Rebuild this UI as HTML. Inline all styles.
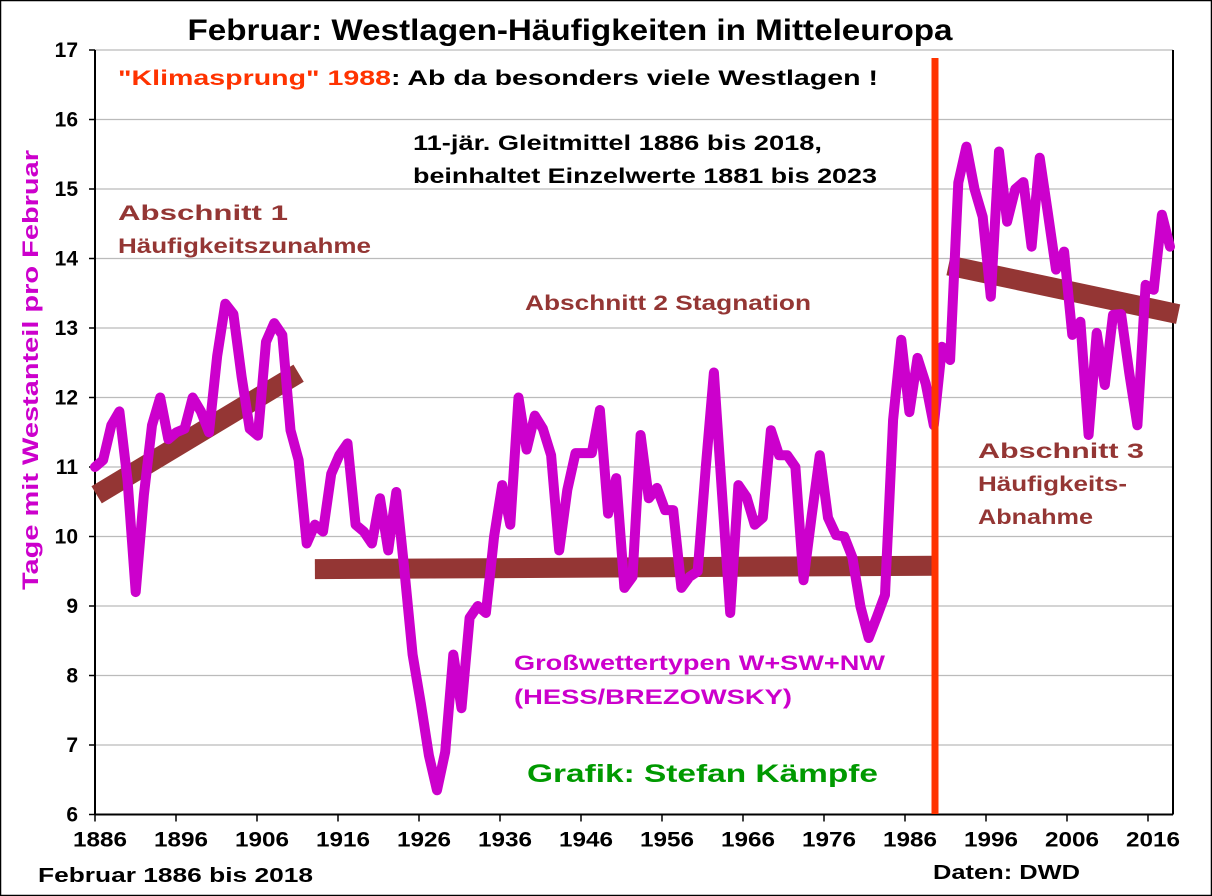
<!DOCTYPE html>
<html><head><meta charset="utf-8"><style>
html,body{margin:0;padding:0;background:#fff;}
svg{display:block;font-family:"Liberation Sans",Arial,sans-serif;font-weight:bold;}
</style></head><body>
<svg id="chart" width="1212" height="896" viewBox="0 0 1212 896" xmlns="http://www.w3.org/2000/svg">
<rect x="0.5" y="0.5" width="1211" height="895" fill="#fff" stroke="#000" stroke-width="1.5"/>
<text x="570" y="40" text-anchor="middle" font-size="30" textLength="765" lengthAdjust="spacingAndGlyphs" fill="#000">Februar: Westlagen-Häufigkeiten in Mitteleuropa</text>
<g id="grid"></g>
<g id="axes"></g>
<g id="trends"></g>
<g id="series"></g>
<line x1="935" y1="58" x2="935" y2="814" stroke="#FF3300" stroke-width="7"/>
<text x="-370" y="38" transform="rotate(-90)" text-anchor="middle" font-size="22" textLength="440" lengthAdjust="spacingAndGlyphs" fill="#CC00CC">Tage mit Westanteil pro Februar</text>
<text x="118" y="85" font-size="21" textLength="760" lengthAdjust="spacingAndGlyphs"><tspan fill="#FF3300">"Klimasprung" 1988</tspan><tspan fill="#000">: Ab da besonders viele Westlagen !</tspan></text>
<text x="413" y="150" font-size="21" textLength="409" lengthAdjust="spacingAndGlyphs" fill="#000">11-jär. Gleitmittel 1886 bis 2018,</text>
<text x="413" y="183" font-size="21" textLength="464" lengthAdjust="spacingAndGlyphs" fill="#000">beinhaltet Einzelwerte 1881 bis 2023</text>
<text x="118" y="220" font-size="21" textLength="170" lengthAdjust="spacingAndGlyphs" fill="#943634">Abschnitt 1</text>
<text x="118" y="253" font-size="21" textLength="253" lengthAdjust="spacingAndGlyphs" fill="#943634">Häufigkeitszunahme</text>
<text x="525" y="310" font-size="21" textLength="286" lengthAdjust="spacingAndGlyphs" fill="#943634">Abschnitt 2 Stagnation</text>
<text x="978" y="458" font-size="21" textLength="166" lengthAdjust="spacingAndGlyphs" fill="#943634">Abschnitt 3</text>
<text x="978" y="491" font-size="21" textLength="149" lengthAdjust="spacingAndGlyphs" fill="#943634">Häufigkeits-</text>
<text x="978" y="524" font-size="21" textLength="115" lengthAdjust="spacingAndGlyphs" fill="#943634">Abnahme</text>
<text x="514" y="670" font-size="21" textLength="371" lengthAdjust="spacingAndGlyphs" fill="#CC00CC">Großwettertypen W+SW+NW</text>
<text x="514" y="704" font-size="21" textLength="278" lengthAdjust="spacingAndGlyphs" fill="#CC00CC">(HESS/BREZOWSKY)</text>
<text x="527" y="782" font-size="25" textLength="351" lengthAdjust="spacingAndGlyphs" fill="#009900">Grafik: Stefan Kämpfe</text>
<text x="38" y="882" font-size="20" textLength="275" lengthAdjust="spacingAndGlyphs" fill="#000">Februar 1886 bis 2018</text>
<text x="933" y="879" font-size="20" textLength="147" lengthAdjust="spacingAndGlyphs" fill="#000">Daten: DWD</text>
</svg>
<script>
const yTicks=[6,7,8,9,10,11,12,13,14,15,16,17];
const xTickLabels=[1886,1896,1906,1916,1926,1936,1946,1956,1966,1976,1986,1996,2006,2016];
const firstYear=1886;
const values=[11.0,11.1,11.6,11.8,10.8,9.2,10.6,11.6,12.0,11.4,11.5,11.55,12.0,11.8,11.5,12.6,13.35,13.2,12.3,11.55,11.45,12.8,13.07,12.9,11.53,11.1,9.9,10.17,10.07,10.9,11.17,11.34,10.17,10.07,9.9,10.55,9.8,10.64,9.5,8.3,7.6,6.85,6.35,6.9,8.3,7.53,8.83,9.0,8.9,10.0,10.74,10.17,12.0,11.25,11.74,11.55,11.17,9.8,10.67,11.2,11.2,11.2,11.82,10.33,10.84,9.26,9.42,11.46,10.55,10.7,10.38,10.38,9.26,9.42,9.5,11.0,12.36,10.6,8.9,10.74,10.57,10.17,10.27,11.53,11.17,11.17,11.0,9.37,10.3,11.17,10.27,10.02,10.0,9.7,8.99,8.54,8.84,9.16,11.68,12.83,11.79,12.57,12.2,11.6,12.73,12.54,15.09,15.61,15.0,14.6,13.45,15.54,14.53,15.0,15.1,14.17,15.45,14.66,13.84,14.1,12.9,13.09,11.46,12.93,12.18,13.19,13.2,12.35,11.6,13.62,13.55,14.63,14.17];
const trendYears=[[1886.2,1911],[1913,1989.2],[1990.8,2019]];
const trendValues=[[10.6,12.35],[9.53,9.58],[13.9,13.2]];
const NS="http://www.w3.org/2000/svg";
const X0=95,X1=1170,Y0=814.5,PXU=69.5;
function xs(yr){return X0+(yr-firstYear)*(X1-X0)/132;}
function ys(v){return Y0-(v-6)*PXU;}
function mk(tag,attrs,parent){const e=document.createElementNS(NS,tag);for(const k in attrs)e.setAttribute(k,attrs[k]);parent.appendChild(e);return e;}
const grid=document.getElementById('grid'),axes=document.getElementById('axes'),trends=document.getElementById('trends'),series=document.getElementById('series');
yTicks.forEach(t=>{
  if(t>6){const g=mk('line',{x1:X0,x2:1173,y1:ys(t),y2:ys(t),stroke:'#BBBBBB','stroke-width':1.3},grid);
  
  }
  const tk=mk('line',{x1:X0-6,x2:X0,y1:ys(t),y2:ys(t),stroke:'#000','stroke-width':1.5},axes);
  
  
  const lb=mk('text',{x:78,y:ys(t)+7,'text-anchor':'end','font-size':21,fill:'#000'},axes);
  lb.textContent=t;
  
  
});
const ya=mk('line',{x1:X0,x2:X0,y1:ys(17),y2:Y0,stroke:'#000','stroke-width':2},axes);


const xa=mk('line',{x1:X0,x2:1173,y1:Y0,y2:Y0,stroke:'#000','stroke-width':2},axes);


const ra=mk('line',{x1:1173,x2:1173,y1:ys(17),y2:Y0,stroke:'#000','stroke-width':2},axes);


xTickLabels.forEach(yr=>{
  const x=X0+(yr-firstYear)*8.1;
  const tk=mk('line',{x1:x,x2:x,y1:Y0,y2:Y0+7,stroke:'#000','stroke-width':1.5},axes);
  
  
  const lb=mk('text',{x:x+5,y:Y0+32,'text-anchor':'middle','font-size':21,textLength:54,lengthAdjust:'spacingAndGlyphs',fill:'#000'},axes);
  lb.textContent=yr;
  
  
});
trendYears.forEach((ty,i)=>{
  const l=mk('line',{x1:xs(ty[0]),y1:ys(trendValues[i][0]),x2:xs(ty[1]),y2:ys(trendValues[i][1]),stroke:'#943634','stroke-width':20},trends);
  
  
});
const pts=values.map((v,i)=>xs(firstYear+i).toFixed(1)+','+ys(v).toFixed(1)).join(' ');
const pl=mk('polyline',{points:pts,fill:'none',stroke:'#CC00CC','stroke-width':10,'stroke-linejoin':'round','stroke-linecap':'round'},series);


</script>
</body></html>
